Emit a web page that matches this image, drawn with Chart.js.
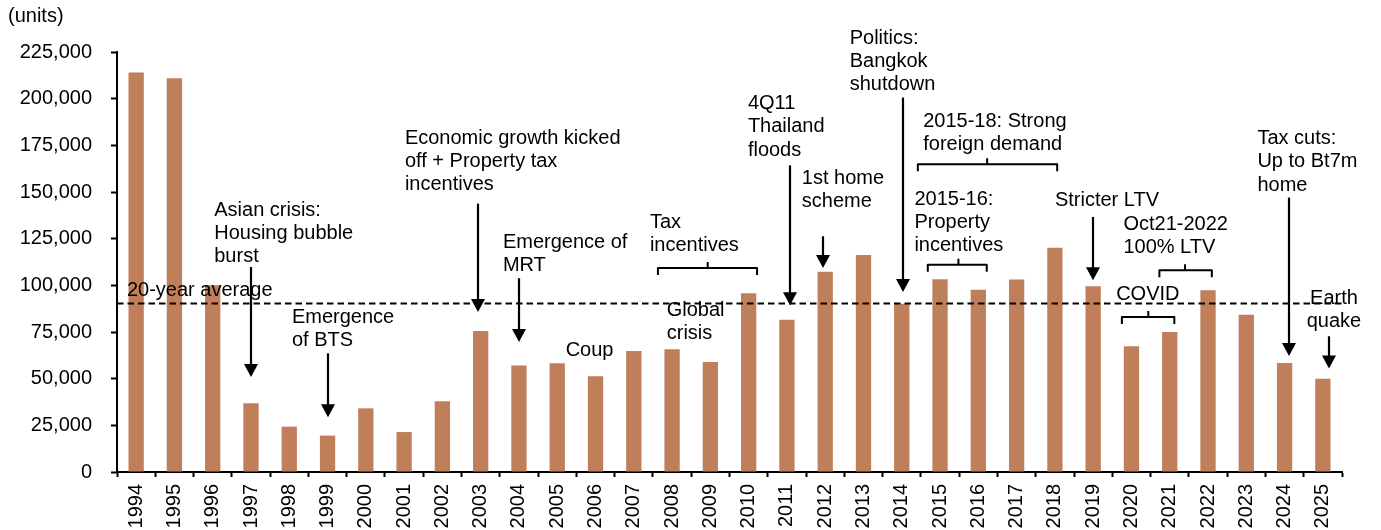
<!DOCTYPE html>
<html>
<head>
<meta charset="utf-8">
<script src="https://cdn.jsdelivr.net/npm/chart.js@4.4.1/dist/chart.umd.min.js"></script>
<style>
  html, body { margin: 0; padding: 0; background: #ffffff; }
  #wrap { width: 1381px; height: 530px; position: relative; }
</style>
</head>
<body>
<div id="wrap"><canvas id="chart"></canvas></div>
<script>
// Annual housing supply (units)
const years = ['1994','1995','1996','1997','1998','1999','2000','2001','2002','2003','2004',
  '2005','2006','2007','2008','2009','2010','2011','2012','2013','2014','2015','2016','2017',
  '2018','2019','2020','2021','2022','2023','2024','2025'];
const units = [214000, 211000, 100000, 36800, 24300, 19500, 34100, 21400, 37900, 75500, 57000,
  58200, 51300, 64800, 65700, 58900, 95700, 81600, 107300, 116300, 90200, 103200, 97700, 103100,
  120200, 99500, 67300, 75000, 97300, 84300, 58400, 50000];
const yTicks = [0, 25000, 50000, 75000, 100000, 125000, 150000, 175000, 200000, 225000];
const averageLevel = 90700;
const averageLabel = '20-year average';
const unitLabel = '(units)';

// Event callouts: x in category index units, y in units of the value axis
const notes = [
  { lines: ['Asian crisis:', 'Housing bubble', 'burst'], x: 2.04, y: 140200 },
  { lines: [averageLabel], x: -0.24, y: 97300 },
  { lines: ['Emergence', 'of BTS'], x: 4.07, y: 82900 },
  { lines: ['Economic growth kicked', 'off + Property tax', 'incentives'], x: 7.02, y: 178900 },
  { lines: ['Emergence of', 'MRT'], x: 9.58, y: 123200 },
  { lines: ['Coup'], x: 11.22, y: 65200 },
  { lines: ['Tax', 'incentives'], x: 13.42, y: 133800 },
  { lines: ['Global', 'crisis'], x: 13.86, y: 86600 },
  { lines: ['4Q11', 'Thailand', 'floods'], x: 15.98, y: 197400 },
  { lines: ['1st home', 'scheme'], x: 17.39, y: 157300 },
  { lines: ['Politics:', 'Bangkok', 'shutdown'], x: 18.64, y: 232500 },
  { lines: ['2015-18: Strong', 'foreign demand'], x: 20.56, y: 188000 },
  { lines: ['2015-16:', 'Property', 'incentives'], x: 20.33, y: 146100 },
  { lines: ['Stricter LTV'], x: 24.0, y: 145500 },
  { lines: ['Oct21-2022', '100% LTV'], x: 25.79, y: 132700 },
  { lines: ['COVID'], x: 25.60, y: 95000 },
  { lines: ['Tax cuts:', 'Up to Bt7m', 'home'], x: 29.29, y: 178600 },
  { lines: ['Earth', 'quake'], x: 31.29, y: 92900, align: 'center' }
];

// Downward arrows: start and tip in value units
const arrows = [
  { x: 3.0,   from: 109800, to: 50900 },
  { x: 5.0,   from: 63600,  to: 29300 },
  { x: 8.92,  from: 143800, to: 85700 },
  { x: 10.0,  from: 103800, to: 69600 },
  { x: 17.08, from: 164300, to: 89300 },
  { x: 17.94, from: 126300, to: 109300 },
  { x: 20.04, from: 200600, to: 96400 },
  { x: 24.99, from: 136600, to: 102700 },
  { x: 30.12, from: 147000, to: 62100 },
  { x: 31.16, from: 72700,  to: 55400 }
];

// Range brackets spanning several years
const braces = [
  { x0: 13.63, x1: 16.22, xm: 14.93, y: 109300 },
  { x0: 20.42, x1: 24.06, xm: 22.23, y: 164800 },
  { x0: 20.68, x1: 22.22, xm: 21.48, y: 111000 },
  { x0: 26.73, x1: 28.10, xm: 27.40, y: 108100 },
  { x0: 25.75, x1: 27.12, xm: 26.44, y: 83000 }
];

const FONT = "'Liberation Sans', Arial, Helvetica, sans-serif";
const LINE_H = 23.3;

const annotationPlugin = {
  id: 'callouts',
  afterDatasetsDraw(chart) {
    const { ctx, chartArea, scales: { x, y } } = chart;
    const x0 = x.getPixelForValue(0);
    const step = x.getPixelForValue(1) - x0;
    const px = v => x0 + v * step;
    ctx.save();

    // average reference line
    const ay = Math.round(y.getPixelForValue(averageLevel)) + 0.5;
    ctx.strokeStyle = '#000';
    ctx.lineWidth = 1.8;
    ctx.setLineDash([6.5, 4]);
    ctx.beginPath();
    ctx.moveTo(chartArea.left, ay);
    ctx.lineTo(chartArea.right, ay);
    ctx.stroke();
    ctx.setLineDash([]);

    // arrows
    ctx.fillStyle = '#000';
    ctx.lineWidth = 2.2;
    arrows.forEach(a => {
      const ax = Math.round(px(a.x));
      const y1 = y.getPixelForValue(a.from);
      const tip = y.getPixelForValue(a.to);
      const headH = 13, headW = 7;
      ctx.beginPath();
      ctx.moveTo(ax, y1);
      ctx.lineTo(ax, tip - headH + 1);
      ctx.stroke();
      ctx.beginPath();
      ctx.moveTo(ax - headW, tip - headH);
      ctx.lineTo(ax + headW, tip - headH);
      ctx.lineTo(ax, tip);
      ctx.closePath();
      ctx.fill();
    });

    // brackets
    ctx.lineWidth = 2;
    ctx.lineJoin = 'round';
    braces.forEach(b => {
      const by = y.getPixelForValue(b.y);
      const l = px(b.x0), r = px(b.x1), m = px(b.xm);
      ctx.beginPath();
      ctx.moveTo(l, by + 7);
      ctx.lineTo(l, by);
      ctx.lineTo(r, by);
      ctx.lineTo(r, by + 7);
      ctx.moveTo(m, by);
      ctx.lineTo(m, by - 6);
      ctx.stroke();
    });

    // callout texts
    ctx.font = '20px ' + FONT;
    ctx.textBaseline = 'middle';
    ctx.fillStyle = '#000';
    notes.forEach(n => {
      ctx.textAlign = n.align || 'left';
      const tx = px(n.x);
      const ty = y.getPixelForValue(n.y);
      n.lines.forEach((line, i) => ctx.fillText(line, tx, ty + i * LINE_H));
    });

    // unit caption
    ctx.textAlign = 'left';
    ctx.fillText(unitLabel, 8, 16);
    ctx.restore();
  }
};

new Chart(document.getElementById('chart'), {
  type: 'bar',
  data: {
    labels: years,
    datasets: [{
      data: units,
      backgroundColor: '#C07F5B',
      borderWidth: 0,
      barPercentage: 0.4,
      categoryPercentage: 1.0
    }]
  },
  options: {
    responsive: true,
    maintainAspectRatio: false,
    animation: false,
    layout: { padding: { top: 52, right: 39, left: 0, bottom: 0 } },
    plugins: { legend: { display: false }, tooltip: { enabled: false } },
    scales: {
      x: {
        grid: { display: true, drawOnChartArea: false, offset: true, tickLength: 5, tickWidth: 2, tickColor: '#000' },
        border: { color: '#000', width: 2 },
        ticks: { minRotation: 90, maxRotation: 90, autoSkip: false, padding: 7, color: '#000',
                 font: { family: FONT, size: 20 } },
        afterFit(s) { s.height = 58; }
      },
      y: {
        min: 0, max: 225000,
        grid: { drawOnChartArea: false, tickLength: 6, tickWidth: 2, tickColor: '#000' },
        border: { color: '#000', width: 2 },
        ticks: { padding: 19, color: '#000', font: { family: FONT, size: 20 },
                 callback: v => v.toLocaleString('en-US') },
        afterBuildTicks(s) { s.ticks = yTicks.map(v => ({ value: v })); },
        afterFit(s) { s.width = 117; }
      }
    }
  },
  plugins: [annotationPlugin]
});
</script>
</body>
</html>
